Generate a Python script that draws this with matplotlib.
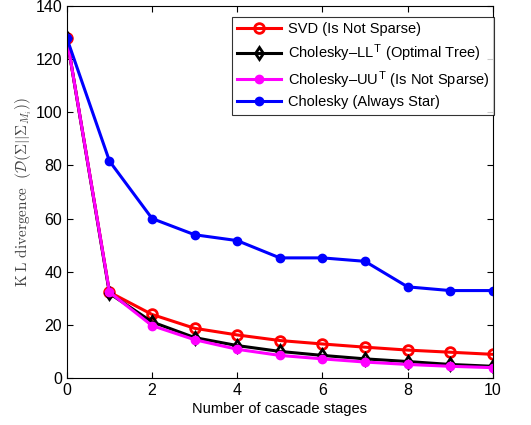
import numpy as np
import matplotlib
matplotlib.use("Agg")
import matplotlib.pyplot as plt

# -----------------------------
# Data
# -----------------------------
stages = [0, 1, 2, 3, 4, 5, 6, 7, 8, 9, 10]

svd = [127.8, 32.3, 23.9, 18.7, 16.2, 14.1, 12.8, 11.6, 10.5, 9.7, 8.9]
chol_ll = [127.8, 31.8, 21.1, 15.2, 12.2, 10.0, 8.5, 7.2, 6.2, 5.1, 4.4]
chol_uu = [127.8, 32.3, 19.7, 14.4, 10.8, 8.5, 7.2, 6.0, 5.1, 4.4, 3.9]
chol_star = [127.8, 81.6, 60.0, 53.9, 51.7, 45.2, 45.2, 43.9, 34.3, 32.9, 32.9]

labels = [
    "SVD (Is Not Sparse)",
    r"Cholesky–LL$^\mathsf{T}$ (Optimal Tree)",
    r"Cholesky–UU$^\mathsf{T}$ (Is Not Sparse)",
    "Cholesky (Always Star)",
]

# -----------------------------
# Style
# -----------------------------
plt.rcParams["font.family"] = ["Liberation Sans", "DejaVu Sans"]
plt.rcParams["font.size"] = 10
plt.rcParams["mathtext.fontset"] = "cm"

fig = plt.figure(figsize=(5.31, 4.25), dpi=100)
ax = fig.add_axes([0.126, 0.1106, 0.802, 0.8754])

ax.plot(stages, svd, color="red", lw=2.2, marker="o", ms=7,
        mfc="none", mew=2, label=labels[0])
ax.plot(stages, chol_ll, color="black", lw=2.2, marker="d", ms=6,
        mfc="none", mew=2, label=labels[1])
ax.plot(stages, chol_uu, color="magenta", lw=2.2, marker="o", ms=6,
        label=labels[2])
ax.plot(stages, chol_star, color="blue", lw=2.2, marker="o", ms=6,
        label=labels[3])

# -----------------------------
# Axes
# -----------------------------
ax.set_xlim(0, 10)
ax.set_ylim(0, 140)
ax.set_xticks(np.arange(0, 11, 2))
ax.set_yticks(np.arange(0, 141, 20))
ax.tick_params(direction="in", top=True, right=True, length=4, labelsize=11.5)

ax.set_xlabel("Number of cascade stages", fontsize=10.5, labelpad=3)
ax.set_ylabel(r"$\mathrm{K\;L\ divergence}\ \ (\mathcal{D}(\Sigma||\Sigma_{M_i}))$",
              fontsize=11, color="#444444", labelpad=1)

leg = ax.legend(loc="upper right", bbox_to_anchor=(1.003, 0.97),
                fontsize=10.5, frameon=True, fancybox=False,
                edgecolor="black", handlelength=3.0, handletextpad=0.45,
                borderpad=0.35, labelspacing=0.4, borderaxespad=0)
leg.get_frame().set_linewidth(0.8)

plt.savefig("out.png", dpi=100)
plt.close()
